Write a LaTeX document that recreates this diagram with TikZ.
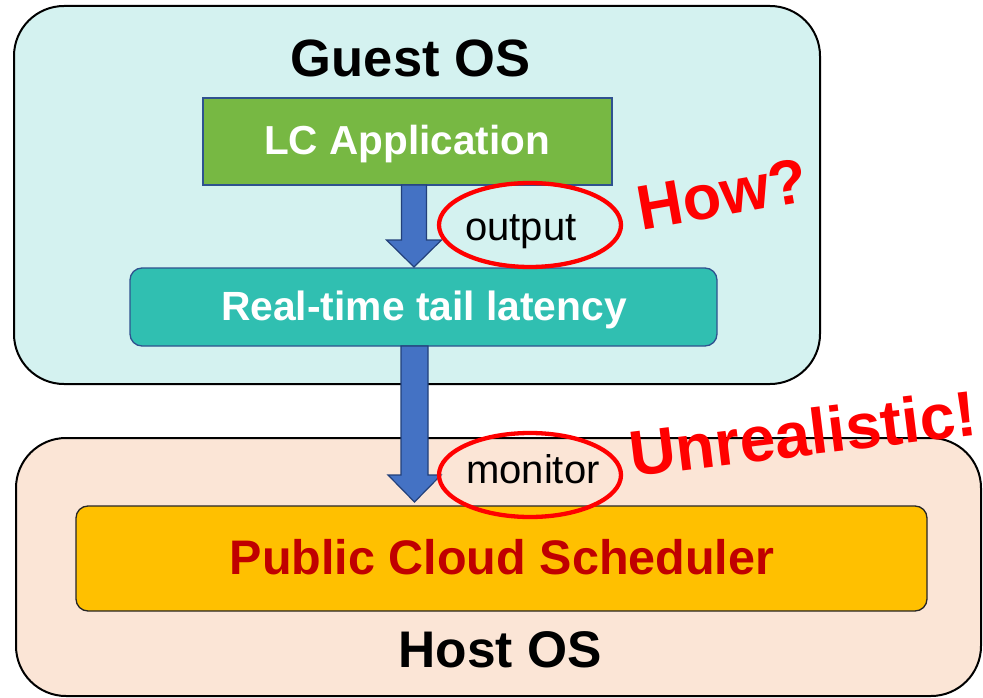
\documentclass[tikz,border=0pt]{standalone}
\usepackage{fontspec}
\setmainfont{Liberation Sans}
\usetikzlibrary{shapes.geometric,calc}

\definecolor{guestfill}{HTML}{D4F2F0}
\definecolor{hostfill}{HTML}{FBE5D6}
\definecolor{lcgreen}{HTML}{77B843}
\definecolor{rtteal}{HTML}{30BFB1}
\definecolor{schedfill}{HTML}{FFC000}
\definecolor{schedtext}{HTML}{C00000}
\definecolor{arrowfill}{HTML}{4472C4}
\definecolor{arrowline}{HTML}{22407A}
\definecolor{boxline}{HTML}{2F528F}
\definecolor{alertred}{HTML}{FF0000}

\tikzset{
  osbox/.style={draw=black, line width=2pt, rounded corners=50pt,
    inner sep=0pt, outer sep=0pt},
  innerbox/.style={line width=1.3pt, inner sep=0pt, outer sep=0pt},
  boxlabel/.style={font=\bfseries, inner sep=0pt, anchor=base},
  plainlabel/.style={inner sep=0pt, anchor=base},
  ring/.style={ellipse, draw=alertred, line width=4.3pt, inner sep=0pt,
    minimum width=182pt, minimum height=84pt},
  alert/.style={font=\bfseries, text=alertred, inner sep=0pt},
  blockarrow/.style={fill=arrowfill, draw=arrowline, line width=1.2pt,
    line join=miter}
}

% block arrow: #1 = x of axis, #2/#3 = source/target nodes,
% #4 = shaft half width, #5 = head half width, #6 = head length, #7 = gap at tip
\newcommand{\blockarrowdraw}[7]{%
  \draw[blockarrow] let \p1=(#2.south), \p2=(#3.north) in
    ({#1pt-#4pt},{\y1}) -- ({#1pt+#4pt},{\y1})
    -- ({#1pt+#4pt},{\y2+#7pt+#6pt}) -- ({#1pt+#5pt},{\y2+#7pt+#6pt})
    -- ({#1pt},{\y2+#7pt})
    -- ({#1pt-#5pt},{\y2+#7pt+#6pt}) -- ({#1pt-#4pt},{\y2+#7pt+#6pt})
    -- cycle;}

\begin{document}
\begin{tikzpicture}[x=1pt, y=-1pt]
  \useasboundingbox (0,0) rectangle (983,698);

  % outer layers
  \node[osbox, fill=guestfill, minimum width=806pt, minimum height=378pt]
    (guest) at (417,195) {};
  \node[osbox, fill=hostfill, minimum width=965pt, minimum height=258pt]
    (host) at (498.5,567) {};

  % inner components
  \node[innerbox, draw=boxline, fill=lcgreen,
    minimum width=409pt, minimum height=87pt] (lc) at (407.5,141.5) {};
  \node[innerbox, draw=boxline, fill=rtteal, rounded corners=12pt,
    minimum width=587pt, minimum height=78pt] (rt) at (423.5,307) {};
  \node[innerbox, draw=black!85, fill=schedfill, rounded corners=12pt,
    minimum width=851pt, minimum height=105pt] (sched) at (501.5,558.5) {};

  % flow arrows
  \blockarrowdraw{414}{lc}{rt}{12.5}{27.5}{27}{1}
  \blockarrowdraw{414.5}{rt}{sched}{13.5}{26.5}{27}{4}

  % texts
  \node[boxlabel, font=\bfseries\fontsize{52.5}{52.5}\selectfont]
    (guestlabel) at (410.5,77) {Guest OS};
  \node[boxlabel, text=white, font=\bfseries\fontsize{40.5}{40.5}\selectfont]
    (lclabel) at (407,155) {LC Application};
  \node[boxlabel, text=white, font=\bfseries\fontsize{40.8}{40.8}\selectfont]
    (rtlabel) at (424,320.5) {Real-time tail latency};
  \node[boxlabel, text=schedtext, font=\bfseries\fontsize{48.5}{48.5}\selectfont]
    (schedlabel) at (502,574) {Public Cloud Scheduler};
  \node[boxlabel, font=\bfseries\fontsize{51.5}{51.5}\selectfont]
    (hostlabel) at (500,667) {Host OS};

  \node[plainlabel, font=\fontsize{40}{40}\selectfont]
    (outlabel) at (521,240) {output};
  \node[plainlabel, font=\fontsize{40}{40}\selectfont]
    (monlabel) at (533,483) {monitor};

  % red call-outs
  \node[ring] (ring1) at (530,225) {};
  \node[ring] (ring2) at (530,475) {};
  \node[alert, rotate=10, font=\bfseries\fontsize{63}{63}\selectfont]
    (how) at (722,194) {How?};
  \node[alert, rotate=7, font=\bfseries\fontsize{64}{64}\selectfont]
    (unreal) at (803,433) {Unrealistic!};
\end{tikzpicture}
\end{document}
